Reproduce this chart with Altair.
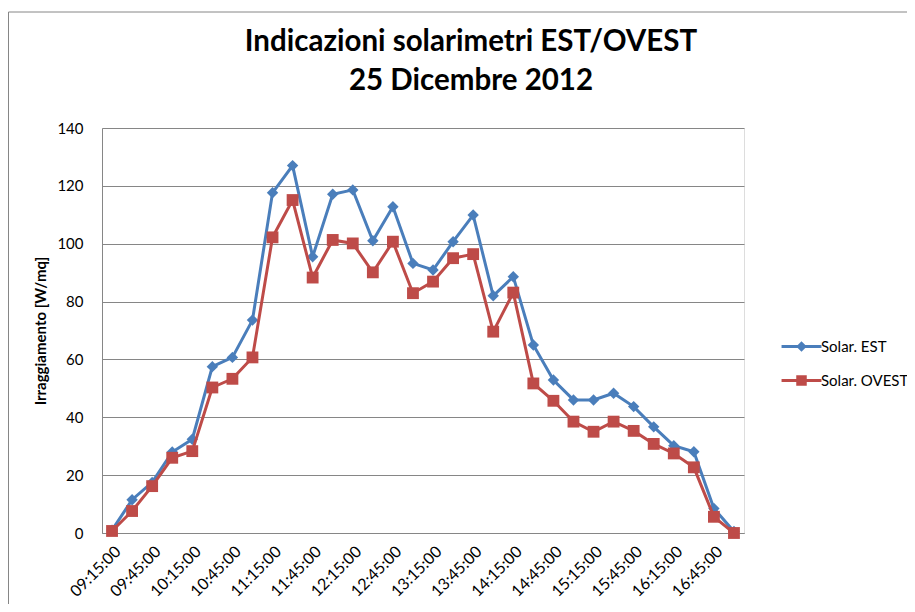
import altair as alt
import pandas as pd

times = [
    "09:15:00", "09:30:00", "09:45:00", "10:00:00", "10:15:00", "10:30:00",
    "10:45:00", "11:00:00", "11:15:00", "11:30:00", "11:45:00", "12:00:00",
    "12:15:00", "12:30:00", "12:45:00", "13:00:00", "13:15:00", "13:30:00",
    "13:45:00", "14:00:00", "14:15:00", "14:30:00", "14:45:00", "15:00:00",
    "15:15:00", "15:30:00", "15:45:00", "16:00:00", "16:15:00", "16:30:00",
    "16:45:00", "17:00:00",
]
est = [1, 11.5, 17.5, 28, 32.4, 57.5, 60.7, 73.6, 117.6, 127, 95.5, 117.1,
       118.6, 101, 112.8, 93.2, 90.9, 100.7, 109.9, 82, 88.6, 65, 52.9, 46,
       46, 48.3, 43.7, 36.7, 30.2, 28.1, 8.5, 0.5]
ovest = [0.7, 7.6, 16.2, 26, 28.3, 50.3, 53.3, 60.7, 102.2, 115.1, 88.3, 101.3,
         100.1, 90.1, 100.7, 82.9, 86.9, 95, 96.4, 69.6, 83.1, 51.7, 45.7, 38.5,
         35, 38.5, 35.3, 30.8, 27.5, 22.7, 5.6, 0]
series_names = ["Solar. EST", "Solar. OVEST"]
colors = ["#4A7EBB", "#BE4B48"]
y_ticks = [0, 20, 40, 60, 80, 100, 120, 140]
x_label_times = times[::2]
title_lines = ["Indicazioni solarimetri EST/OVEST", "25 Dicembre 2012"]
y_title = "Irraggiamento [W/mq]"

# legend symbols: line segment with marker in the middle
path_est = "M-1.14,-0.09H1.14V0.09H-1.14Z M0,-0.3L0.3,0L0,0.3L-0.3,0Z"
path_ovest = "M-1.14,-0.09H1.14V0.09H-1.14Z M-0.3,-0.3H0.3V0.3H-0.3Z"

df = pd.DataFrame({
    "time": times * 2,
    "value": est + ovest,
    "series": [series_names[0]] * len(times) + [series_names[1]] * len(times),
})

FONT = "Lato"
GRAY = "#868686"

x = alt.X(
    "time:O", sort=times,
    scale=alt.Scale(type="point", padding=0.5),
    axis=alt.Axis(values=x_label_times, labelAngle=-45, title=None, ticks=False,
                  grid=False, domainColor=GRAY, labelFont=FONT, labelFontSize=16,
                  labelColor="black", labelPadding=10),
)
y = alt.Y(
    "value:Q",
    scale=alt.Scale(domain=[0, 140], nice=False),
    axis=alt.Axis(values=y_ticks, title=y_title, ticks=False, grid=True,
                  gridColor=GRAY, domainColor=GRAY, labelFont=FONT,
                  labelFontSize=15, labelColor="black", labelPadding=19,
                  titleFont=FONT, titleFontSize=15, titleFontWeight="bold",
                  titleColor="black", titlePadding=8),
)
color = alt.Color("series:N", scale=alt.Scale(domain=series_names, range=colors),
                  legend=None)

base = alt.Chart(df).encode(x=x, y=y, color=color)

est_line = base.transform_filter(alt.datum.series == series_names[0]).mark_line(strokeWidth=3)
est_pts = base.transform_filter(alt.datum.series == series_names[0]).mark_point(
    filled=True, shape="diamond", size=130, opacity=1)
ovest_line = base.transform_filter(alt.datum.series == series_names[1]).mark_line(strokeWidth=3)
ovest_pts = base.transform_filter(alt.datum.series == series_names[1]).mark_point(
    filled=True, shape="square", size=140, opacity=1)

leg = alt.Legend(title=None, orient="none", legendX=682, legendY=201,
                 symbolSize=1225, labelFont=FONT, labelFontSize=15,
                 labelColor="black", labelOffset=2, rowPadding=8,
                 symbolStrokeWidth=0, symbolOpacity=1)
legend_layer = alt.Chart(df).mark_point(filled=True, size=0, opacity=1, strokeWidth=0).encode(
    x=x, y=y,
    fill=alt.Fill("series:N", scale=alt.Scale(domain=series_names, range=colors), legend=leg),
    shape=alt.Shape("series:N", scale=alt.Scale(domain=series_names,
                                                range=[path_est, path_ovest]), legend=leg),
)

one = pd.DataFrame({"a": [0]})
frame_left = alt.Chart(one).mark_rule(color=GRAY, strokeWidth=1).encode(
    x=alt.value(-93.5), y=alt.value(-116), y2=alt.value(490))
frame_top = alt.Chart(one).mark_rule(color=GRAY, strokeWidth=1).encode(
    x=alt.value(-93.5), x2=alt.value(806), y=alt.value(-116))

chart = alt.layer(
    frame_left, frame_top, est_line, est_pts, ovest_line, ovest_pts, legend_layer
).resolve_scale(shape="independent", fill="independent").properties(
    width=642, height=405,
    title=alt.TitleParams(title_lines, font=FONT, fontSize=29.5, fontWeight="bold",
                          color="black", anchor="middle", frame="group", dx=48,
                          lineHeight=39, offset=0, baseline="bottom", dy=114),
    autosize=alt.AutoSizeParams(type="none"),
    padding={"left": 94, "top": 120, "right": 163, "bottom": 71},
).configure_view(stroke=None).configure(background="white")

chart.save("out.html", embed_options={"renderer": "svg", "actions": False})
